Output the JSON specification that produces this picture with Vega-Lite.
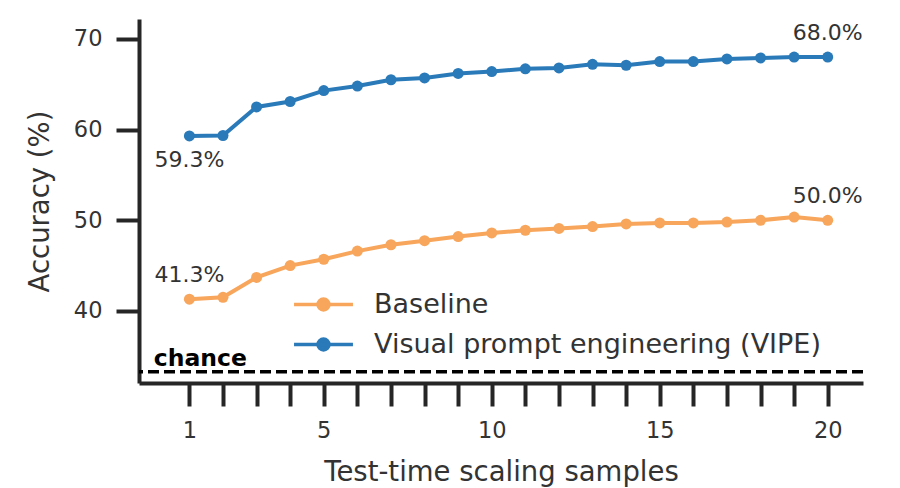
{
  "$schema": "https://vega.github.io/schema/vega-lite/v6.json",
  "width": 724,
  "height": 364,
  "autosize": {"type": "none"},
  "padding": {"left": 139, "top": 19, "right": 37, "bottom": 105},
  "background": "white",
  "config": {
    "font": "DejaVu Sans",
    "view": {"stroke": null},
    "axis": {
      "grid": false,
      "domainColor": "#262626",
      "domainWidth": 4,
      "tickColor": "#262626",
      "tickWidth": 4,
      "tickSize": 23,
      "labelFont": "DejaVu Sans",
      "labelFontSize": 22.5,
      "labelColor": "#333333",
      "labelOverlap": false,
      "labelFlush": false,
      "titleFont": "DejaVu Sans",
      "titleFontSize": 27.5,
      "titleFontWeight": "normal",
      "titleColor": "#333333"
    }
  },
  "datasets": {
    "acc": [
      {"samples": 1, "accuracy": 41.3, "method": "Baseline"},
      {"samples": 2, "accuracy": 41.5, "method": "Baseline"},
      {"samples": 3, "accuracy": 43.7, "method": "Baseline"},
      {"samples": 4, "accuracy": 45.0, "method": "Baseline"},
      {"samples": 5, "accuracy": 45.7, "method": "Baseline"},
      {"samples": 6, "accuracy": 46.6, "method": "Baseline"},
      {"samples": 7, "accuracy": 47.3, "method": "Baseline"},
      {"samples": 8, "accuracy": 47.75, "method": "Baseline"},
      {"samples": 9, "accuracy": 48.2, "method": "Baseline"},
      {"samples": 10, "accuracy": 48.6, "method": "Baseline"},
      {"samples": 11, "accuracy": 48.9, "method": "Baseline"},
      {"samples": 12, "accuracy": 49.1, "method": "Baseline"},
      {"samples": 13, "accuracy": 49.3, "method": "Baseline"},
      {"samples": 14, "accuracy": 49.6, "method": "Baseline"},
      {"samples": 15, "accuracy": 49.7, "method": "Baseline"},
      {"samples": 16, "accuracy": 49.7, "method": "Baseline"},
      {"samples": 17, "accuracy": 49.8, "method": "Baseline"},
      {"samples": 18, "accuracy": 50.0, "method": "Baseline"},
      {"samples": 19, "accuracy": 50.35, "method": "Baseline"},
      {"samples": 20, "accuracy": 50.0, "method": "Baseline"},
      {"samples": 1, "accuracy": 59.3, "method": "Visual prompt engineering (VIPE)"},
      {"samples": 2, "accuracy": 59.35, "method": "Visual prompt engineering (VIPE)"},
      {"samples": 3, "accuracy": 62.5, "method": "Visual prompt engineering (VIPE)"},
      {"samples": 4, "accuracy": 63.1, "method": "Visual prompt engineering (VIPE)"},
      {"samples": 5, "accuracy": 64.3, "method": "Visual prompt engineering (VIPE)"},
      {"samples": 6, "accuracy": 64.8, "method": "Visual prompt engineering (VIPE)"},
      {"samples": 7, "accuracy": 65.5, "method": "Visual prompt engineering (VIPE)"},
      {"samples": 8, "accuracy": 65.7, "method": "Visual prompt engineering (VIPE)"},
      {"samples": 9, "accuracy": 66.2, "method": "Visual prompt engineering (VIPE)"},
      {"samples": 10, "accuracy": 66.4, "method": "Visual prompt engineering (VIPE)"},
      {"samples": 11, "accuracy": 66.7, "method": "Visual prompt engineering (VIPE)"},
      {"samples": 12, "accuracy": 66.8, "method": "Visual prompt engineering (VIPE)"},
      {"samples": 13, "accuracy": 67.2, "method": "Visual prompt engineering (VIPE)"},
      {"samples": 14, "accuracy": 67.1, "method": "Visual prompt engineering (VIPE)"},
      {"samples": 15, "accuracy": 67.5, "method": "Visual prompt engineering (VIPE)"},
      {"samples": 16, "accuracy": 67.5, "method": "Visual prompt engineering (VIPE)"},
      {"samples": 17, "accuracy": 67.8, "method": "Visual prompt engineering (VIPE)"},
      {"samples": 18, "accuracy": 67.9, "method": "Visual prompt engineering (VIPE)"},
      {"samples": 19, "accuracy": 68.0, "method": "Visual prompt engineering (VIPE)"},
      {"samples": 20, "accuracy": 68.0, "method": "Visual prompt engineering (VIPE)"}
    ]
  },
  "layer": [
    {
      "data": {"values": [{"accuracy": 33.3}]},
      "mark": {"type": "rule", "color": "black", "strokeWidth": 3.5, "strokeDash": [11, 5]},
      "encoding": {
        "y": {"field": "accuracy", "type": "quantitative"}
      }
    },
    {
      "data": {"values": [{"samples": 0, "accuracy": 33.3, "label": "chance"}]},
      "mark": {"type": "text", "align": "left", "baseline": "alphabetic", "dx": -2, "dy": -6, "fontSize": 23.5, "fontWeight": "bold", "color": "black"},
      "encoding": {
        "x": {"field": "samples", "type": "quantitative"},
        "y": {"field": "accuracy", "type": "quantitative"},
        "text": {"field": "label"}
      }
    },
    {
      "data": {"name": "acc"},
      "mark": {"type": "line", "strokeWidth": 4, "point": {"filled": true, "size": 121, "opacity": 1}},
      "encoding": {
        "x": {
          "field": "samples",
          "type": "quantitative",
          "scale": {"domain": [-0.5, 21.05], "nice": false, "zero": false},
          "axis": {
            "values": [1, 2, 3, 4, 5, 6, 7, 8, 9, 10, 11, 12, 13, 14, 15, 16, 17, 18, 19, 20],
            "tickCount": 30,
            "format": "d",
            "labelExpr": "datum.value == 1 || datum.value % 5 == 0 ? datum.label : ''",
            "labelPadding": 13,
            "title": "Test-time scaling samples",
            "titlePadding": 17
          }
        },
        "y": {
          "field": "accuracy",
          "type": "quantitative",
          "scale": {"domain": [32.05, 72.2], "nice": false, "zero": false},
          "axis": {
            "values": [40, 50, 60, 70],
            "labelPadding": 14,
            "title": "Accuracy (%)",
            "titlePadding": 19
          }
        },
        "color": {
          "field": "method",
          "type": "nominal",
          "scale": {
            "domain": ["Baseline", "Visual prompt engineering (VIPE)"],
            "range": ["#f8a65b", "#2a7ab9"]
          },
          "legend": {
            "orient": "none",
            "legendX": 162,
            "legendY": 263,
            "title": null,
            "padding": 0,
            "symbolType": "M-1.45,0L1.45,0M-0.27,0A0.27,0.27,0,1,1,0.27,0A0.27,0.27,0,1,1,-0.27,0Z",
            "symbolSize": 1650,
            "symbolStrokeWidth": 3.5,
            "labelFont": "DejaVu Sans",
            "labelFontSize": 27,
            "labelColor": "#333333",
            "labelOffset": 28,
            "labelLimit": 0,
            "rowPadding": 4,
            "encode": {
              "symbols": {
                "update": {
                  "fill": {"scale": "color", "field": "value"},
                  "stroke": {"scale": "color", "field": "value"},
                  "opacity": {"value": 1}
                }
              }
            }
          }
        }
      }
    },
    {
      "data": {"values": [{"samples": 1, "accuracy": 59.3, "label": "59.3%"}]},
      "mark": {"type": "text", "align": "center", "baseline": "middle", "dy": 24, "fontSize": 22, "color": "#333333"},
      "encoding": {
        "x": {"field": "samples", "type": "quantitative"},
        "y": {"field": "accuracy", "type": "quantitative"},
        "text": {"field": "label"}
      }
    },
    {
      "data": {
        "values": [
          {"samples": 1, "accuracy": 41.3, "label": "41.3%"},
          {"samples": 20, "accuracy": 68.0, "label": "68.0%"},
          {"samples": 20, "accuracy": 50.0, "label": "50.0%"}
        ]
      },
      "mark": {"type": "text", "align": "center", "baseline": "middle", "dy": -24, "fontSize": 22, "color": "#333333"},
      "encoding": {
        "x": {"field": "samples", "type": "quantitative"},
        "y": {"field": "accuracy", "type": "quantitative"},
        "text": {"field": "label"}
      }
    }
  ]
}
